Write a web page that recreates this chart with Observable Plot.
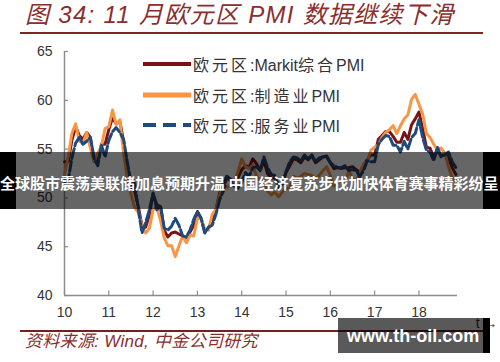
<!DOCTYPE html>
<html><head><meta charset="utf-8">
<script src="https://cdn.jsdelivr.net/npm/d3@7"></script>
<script src="https://cdn.jsdelivr.net/npm/@observablehq/plot@0.6"></script>
<style>
html,body{margin:0;padding:0;background:#fff;}
#wrap{position:relative;width:500px;height:362px;overflow:hidden;font-family:"Liberation Sans",Arial,"Noto Sans CJK SC",sans-serif;}
#title{position:absolute;left:25px;top:0px;font-size:24px;font-style:italic;color:#8a2e2e;white-space:nowrap;line-height:30px;letter-spacing:1.3px;font-family:"Liberation Sans","Noto Sans CJK SC",sans-serif;}
#titleRule{position:absolute;left:20px;top:32px;width:463px;height:2px;background:#7d2626;}
#chart{position:absolute;left:0;top:40px;}
#legend{position:absolute;left:143px;top:49px;font-size:16px;color:#333;font-family:"Liberation Sans","Noto Sans CJK SC",sans-serif;}
.row{display:flex;align-items:center;height:30.5px;white-space:nowrap;}
.row svg{display:block;margin-right:2px;}
.cjk{letter-spacing:3px;}
#srcRule{position:absolute;left:20px;top:330px;width:463px;height:2px;background:#6e2222;}
#source{position:absolute;left:25px;top:332px;font-size:17px;font-style:italic;color:#8a2e2e;white-space:nowrap;line-height:20px;letter-spacing:0.3px;font-family:"Liberation Sans","Noto Sans CJK SC",sans-serif;}
#band{position:absolute;left:0;top:152px;width:500px;height:57px;}
#band .l{position:absolute;left:0;top:0;width:16px;height:57px;background:#000;}
#band .m{position:absolute;left:16px;top:0;width:467px;height:57px;background:rgba(0,0,0,0.6);}
#band .r{position:absolute;left:483px;top:0;width:17px;height:57px;background:#000;}
#band .t{position:absolute;left:0;top:22px;width:500px;color:#fff;font-weight:bold;font-size:15px;white-space:nowrap;line-height:18px;font-family:"Noto Sans CJK SC",sans-serif;}
#wm{position:absolute;left:338px;top:318px;width:145px;height:35px;background:rgba(0,0,0,0.65);}
#wmbar{position:absolute;left:483px;top:318px;width:7px;height:35px;background:#000;}
#wmt{position:absolute;left:347px;top:325px;color:#fff;font-weight:bold;font-size:18px;line-height:22px;white-space:nowrap;font-family:"Liberation Sans",Arial,sans-serif;}
</style></head>
<body>
<div id="wrap">
  <div id="title">图 34: 11 月欧元区 PMI 数据继续下滑</div>
  <div id="titleRule"></div>
  <div id="chart"></div>
  <div id="legend"></div>
  <div id="srcRule"></div>
  <div id="source">资料来源: Wind, 中金公司研究</div>
  <div id="band"><div class="l"></div><div class="m"></div><div class="r"></div>
    <div class="t">全球股市震荡美联储加息预期升温 中国经济复苏步伐加快体育赛事精彩纷呈</div></div>
  <div id="wm"></div><div id="wmbar"></div>
  <div id="wmt">www.th-oil.com</div>
</div>
<script>
// Monthly data, Jan 2010 – Nov 2018
const startYear = 2010;
const composite = [
  53.7,53.7,55.9,57.3,56.4,56.0,56.7,56.2,53.8,53.8,55.5,55.5,
  57.0,58.2,57.6,57.8,55.8,53.3,51.1,50.7,49.1,47.1,47.0,48.3,
  50.4,49.3,49.1,46.7,46.0,46.4,46.5,46.3,46.1,45.7,46.5,47.2,
  48.6,47.9,46.5,46.9,47.7,48.7,50.5,51.5,52.2,51.9,51.7,52.1,
  52.9,53.3,53.1,54.0,53.5,52.8,53.8,52.5,52.0,52.1,51.1,51.4,
  52.6,53.3,54.0,53.9,53.6,54.2,53.9,54.3,53.6,53.9,54.2,54.3,
  53.6,53.0,53.1,53.0,53.1,53.1,53.2,52.9,52.6,53.3,53.9,54.4,
  54.4,56.0,56.4,56.8,56.8,56.3,55.7,55.7,56.7,56.0,57.5,58.1,
  58.8,57.1,55.2,55.1,54.1,54.9,54.3,54.5,54.1,53.1,52.4
];
const manufacturing = [
  52.4,54.2,56.6,57.6,55.8,55.6,56.7,55.1,53.7,54.6,55.3,57.1,
  57.3,59.0,57.5,58.0,54.6,52.0,50.4,49.0,48.5,47.1,46.4,46.9,
  48.8,49.0,47.7,45.9,45.1,45.1,44.0,45.1,46.1,45.4,46.2,46.1,
  47.9,47.9,46.8,46.7,48.3,48.8,50.3,51.4,51.1,51.3,51.6,52.7,
  54.0,53.2,53.0,53.4,52.2,51.8,51.8,50.7,50.3,50.6,50.1,50.6,
  51.0,51.0,52.2,52.0,52.2,52.5,52.4,52.3,52.0,52.3,52.8,53.2,
  52.3,51.2,51.6,51.7,51.5,52.8,52.0,51.7,52.6,53.5,53.7,54.9,
  55.2,55.4,56.2,56.7,57.0,57.4,56.6,57.4,58.1,58.5,60.1,60.6,
  59.6,58.6,56.6,56.2,55.5,54.9,55.1,54.6,53.2,52.0,51.8
];
const services = [
  51.7,51.8,54.1,55.6,56.2,55.5,55.8,56.2,54.1,53.3,55.4,54.2,
  55.9,56.8,57.2,56.7,56.0,53.7,51.6,51.5,48.8,46.4,47.5,48.8,
  50.5,48.8,49.2,46.9,46.7,47.1,47.9,47.2,46.1,46.0,46.7,47.8,
  48.6,47.9,46.4,47.0,47.2,48.3,49.8,50.7,52.2,51.6,51.2,51.0,
  51.6,52.6,52.2,53.1,53.2,52.8,54.2,53.1,52.4,52.3,51.1,51.6,
  52.7,53.7,54.2,54.1,53.8,54.4,54.0,54.4,53.7,54.1,54.2,54.2,
  53.6,53.3,53.1,53.1,53.3,52.8,52.9,52.8,52.2,52.8,53.8,53.7,
  53.7,55.5,56.0,56.4,56.3,55.4,55.4,54.7,55.8,55.0,56.2,56.6,
  58.0,56.2,54.9,54.7,53.8,55.2,54.2,54.4,54.7,53.7,53.1
];
const seriesNames = ["欧元区:Markit综合PMI","欧元区:制造业PMI","欧元区:服务业PMI"];
const seriesColors = ["#7a1414","#f79646","#1f4a7c"];
const yTicks = [40,45,50,55,60,65];
const xTicks = [2010,2011,2012,2013,2014,2015,2016,2017,2018];
const xTickLabels = ["10","11","12","13","14","15","16","17","18"];

const rows = composite.map((v,i)=>({t: startYear + i/12, composite: v, manufacturing: manufacturing[i], services: services[i]}));
const axisColor = "#8c8c8c";

const chart = Plot.plot({
  width: 500, height: 290,
  marginLeft: 64, marginRight: 43, marginTop: 11, marginBottom: 35,
  x: {domain: [2010, 2018.87]},
  y: {domain: [40, 65]},
  style: {fontFamily: "'Liberation Sans', Arial, sans-serif", fontSize: "14px", color: "#333", background: "transparent"},
  marks: [
    Plot.ruleX([2010], {stroke: axisColor, strokeWidth: 1.5}),
    Plot.ruleY([40], {stroke: axisColor, strokeWidth: 1.5}),
    Plot.ruleY(yTicks, {x1: 2010, x2: 2010.09, stroke: axisColor, strokeWidth: 1.2}),
    Plot.ruleX(xTicks, {y1: 40, y2: 40.45, stroke: axisColor, strokeWidth: 1.2}),
    Plot.axisY({ticks: yTicks, tickSize: 0, tickPadding: 12, fontSize: 14}),
    Plot.axisX({ticks: xTicks, tickSize: 0, tickPadding: 12, fontSize: 14, tickFormat: d => xTickLabels[xTicks.indexOf(d)]}),
    Plot.line(rows, {x: "t", y: "composite", stroke: seriesColors[0], strokeWidth: 3, strokeLinejoin: "round"}),
    Plot.line(rows, {x: "t", y: "manufacturing", stroke: seriesColors[1], strokeWidth: 3, strokeLinejoin: "round"}),
    Plot.line(rows, {x: "t", y: "services", stroke: seriesColors[2], strokeWidth: 3, strokeLinejoin: "round", strokeDasharray: "10,3"})
  ]
});
document.getElementById("chart").appendChild(chart);

const legend = document.getElementById("legend");
const dashes = [null, null, "13,7"];
const widths = [4, 5, 4];
seriesNames.forEach((name, i) => {
  const row = document.createElement("div");
  row.className = "row";
  const html = name.replace(/([^\x00-\x7f]+)/g, '<span class="cjk">$1</span>');
  row.innerHTML = `<svg width="48" height="10"><line x1="0" x2="48" y1="5" y2="5" stroke="${seriesColors[i]}" stroke-width="${widths[i]}" ${dashes[i] ? `stroke-dasharray="${dashes[i]}"` : ""}/></svg><span>${html}</span>`;
  legend.appendChild(row);
});
</script>
</body></html>
